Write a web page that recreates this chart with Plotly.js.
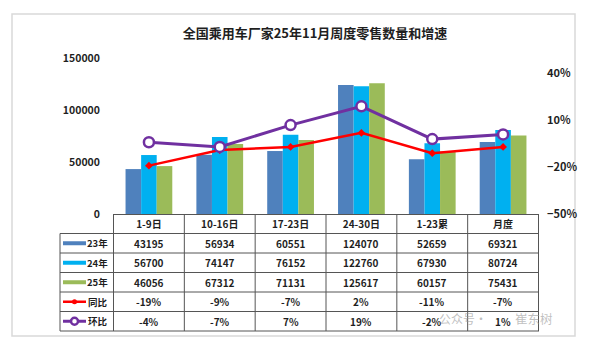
<!DOCTYPE html>
<html>
<head>
<meta charset="utf-8">
<script src="https://cdn.plot.ly/plotly-3.0.1.min.js"></script>
<style>html,body{margin:0;padding:0;background:#fff;}#chart{width:599px;height:350px;}</style>
</head>
<body>
<div id="chart"></div>
<script>
const categories = ['1-9日', '10-16日', '17-23日', '24-30日', '1-23累', '月度'];
const sales23 = [43195, 56934, 60551, 124070, 52659, 69321];
const sales24 = [56700, 74147, 76152, 122760, 67930, 80724];
const sales25 = [46056, 67312, 71131, 125617, 60157, 75431];
const yoy = [-0.19, -0.09, -0.07, 0.02, -0.11, -0.07];
const mom = [-0.04, -0.07, 0.07, 0.19, -0.02, 0.01];
const seriesNames = ['23年', '24年', '25年', '同比', '环比'];
const titleText = '全国乘用车厂家25年11月周度零售数量和增速';
const watermarkA = '公众号·';
const watermarkB = '崔东树';

const C23 = '#4f81bd', C24 = '#00b0f0', C25 = '#9bbb59', CYOY = '#ff0000', CMOM = '#7030a0';
const FONT = '"Noto Sans CJK SC", "Noto Sans", sans-serif';
const TXT = '#1f1f1f';
const GRID = '#555555';

const W = 599, H = 350, ML = 113, MR = 60, MT = 58, MB = 136;
const PW = W - ML - MR, PH = H - MT - MB;
const px2x = p => (p - ML) / PW;
const py2y = p => (H - MB - p) / PH;

const traces = [
  {type: 'bar', name: seriesNames[0], x: categories, y: sales23, marker: {color: C23}},
  {type: 'bar', name: seriesNames[1], x: categories, y: sales24, marker: {color: C24}},
  {type: 'bar', name: seriesNames[2], x: categories, y: sales25, marker: {color: C25}},
  {type: 'scatter', mode: 'lines+markers', name: seriesNames[3], x: categories, y: yoy, yaxis: 'y2',
   line: {color: CYOY, width: 2.5}, marker: {symbol: 'diamond', size: 6, color: CYOY}},
  {type: 'scatter', mode: 'lines+markers', name: seriesNames[4], x: categories, y: mom, yaxis: 'y2',
   line: {color: CMOM, width: 3}, marker: {symbol: 'circle', size: 10, color: '#ffffff', line: {color: CMOM, width: 2.5}}}
];

const rowH = 0.125;
const nRows = 5;
const tableBottom = -rowH * (nRows + 1);
const rowHeaderLeft = px2x(60);
const shapes = [];
const annotations = [];

for (let i = 0; i <= categories.length; i++) {
  shapes.push({type: 'line', xref: 'x', yref: 'paper', x0: i - 0.5, x1: i - 0.5, y0: 0, y1: tableBottom, line: {color: GRID, width: 1}});
}
shapes.push({type: 'line', xref: 'paper', yref: 'paper', x0: rowHeaderLeft, x1: rowHeaderLeft, y0: -rowH, y1: tableBottom, line: {color: GRID, width: 1}});
for (let k = 1; k <= nRows + 1; k++) {
  shapes.push({type: 'line', xref: 'paper', yref: 'paper', x0: rowHeaderLeft, x1: 1, y0: -rowH * k, y1: -rowH * k, line: {color: GRID, width: 1}});
}

const rowValues = [
  sales23.map(String),
  sales24.map(String),
  sales25.map(String),
  yoy.map(v => Math.round(v * 100) + '%'),
  mom.map(v => Math.round(v * 100) + '%')
];
const rowColors = [C23, C24, C25, CYOY, CMOM];
const symX0 = px2x(63), symX1 = px2x(86), symXc = (symX0 + symX1) / 2;

rowValues.forEach((vals, r) => {
  const yc = -rowH * (r + 1) - rowH / 2;
  vals.forEach((t, i) => {
    annotations.push({xref: 'x', yref: 'paper', x: categories[i], y: yc, text: t, showarrow: false,
      xanchor: 'center', yanchor: 'middle', font: {family: FONT, size: 10, color: TXT, weight: 'bold'}});
  });
  annotations.push({xref: 'paper', yref: 'paper', x: px2x(110), y: yc, text: seriesNames[r], showarrow: false,
    xanchor: 'right', yanchor: 'middle', font: {family: FONT, size: 9.5, color: TXT, weight: 'bold'}});
  if (r < 3) {
    shapes.push({type: 'line', xref: 'paper', yref: 'paper', x0: symX0, x1: symX1, y0: yc, y1: yc, line: {color: rowColors[r], width: 4}});
  } else {
    shapes.push({type: 'line', xref: 'paper', yref: 'paper', x0: symX0, x1: symX1, y0: yc, y1: yc, line: {color: rowColors[r], width: r === 4 ? 3 : 2.5}});
    if (r === 3) {
      shapes.push({type: 'circle', xref: 'paper', yref: 'paper', xsizemode: 'pixel', ysizemode: 'pixel',
        xanchor: symXc, yanchor: yc, x0: -2.5, x1: 2.5, y0: -2.5, y1: 2.5, fillcolor: CYOY, line: {color: CYOY, width: 0}});
    } else {
      shapes.push({type: 'circle', xref: 'paper', yref: 'paper', xsizemode: 'pixel', ysizemode: 'pixel',
        xanchor: symXc, yanchor: yc, x0: -3.5, x1: 3.5, y0: -3.5, y1: 3.5, fillcolor: '#ffffff', line: {color: CMOM, width: 2.5}});
    }
  }
});

shapes.push({type: 'rect', xref: 'paper', yref: 'paper', x0: px2x(12), x1: px2x(575), y0: py2y(336), y1: py2y(14),
  line: {color: '#d9d9d9', width: 1.5}, fillcolor: 'rgba(0,0,0,0)', layer: 'below'});

annotations.push({xref: 'paper', yref: 'paper', x: px2x(488), y: py2y(318), text: watermarkA, showarrow: false,
  xanchor: 'right', yanchor: 'middle', borderpad: 0, font: {family: FONT, size: 12, color: 'rgba(150,150,150,0.6)'}});
annotations.push({xref: 'paper', yref: 'paper', x: px2x(514), y: py2y(318), text: watermarkB, showarrow: false,
  xanchor: 'left', yanchor: 'middle', borderpad: 0, font: {family: FONT, size: 12.5, color: 'rgba(150,150,150,0.6)'}});

const layout = {
  width: W, height: H,
  margin: {l: ML, r: MR, t: MT, b: MB, pad: 0},
  paper_bgcolor: '#ffffff', plot_bgcolor: 'rgba(0,0,0,0)',
  font: {family: FONT, color: TXT},
  showlegend: false,
  title: {text: titleText, x: 315 / W, xanchor: 'center', y: 1 - 33 / H, yanchor: 'middle',
    font: {family: FONT, size: 13, color: TXT, weight: 'bold'}},
  barmode: 'group', bargap: 0.34, bargroupgap: 0,
  xaxis: {type: 'category', showline: true, linecolor: GRID, linewidth: 1, ticks: '', showgrid: false,
    tickfont: {family: FONT, size: 10, color: TXT, weight: 'bold'}, ticklabelstandoff: 1, fixedrange: true},
  yaxis: {range: [0, 150000], dtick: 50000, tickformat: 'd', showgrid: false, zeroline: false, showline: false,
    tickfont: {family: FONT, size: 10.5, color: TXT, weight: 'bold'}, ticklabelstandoff: 12},
  yaxis2: {overlaying: 'y', side: 'right', range: [-0.5, 0.5], tick0: -0.5, dtick: 0.3, tickformat: '.0%',
    showgrid: false, zeroline: false, showline: false,
    tickfont: {family: FONT, size: 11, color: TXT, weight: 'bold'}, ticklabelstandoff: 7},
  shapes: shapes,
  annotations: annotations
};

Plotly.newPlot('chart', traces, layout, {staticPlot: true, displayModeBar: false});
</script>
</body>
</html>
